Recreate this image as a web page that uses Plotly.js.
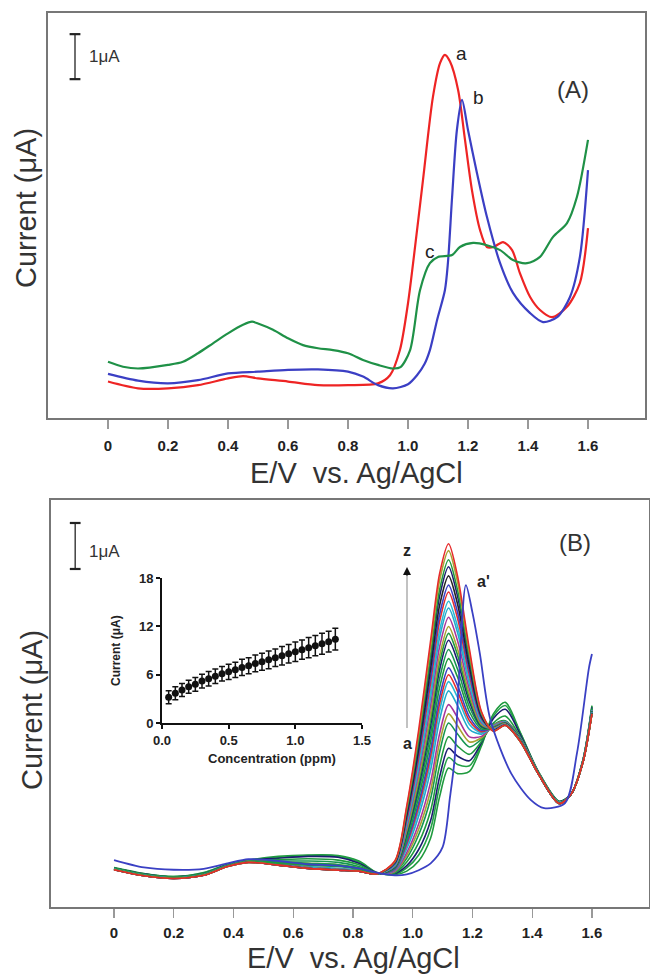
<!DOCTYPE html>
<html><head><meta charset="utf-8">
<script src="https://cdn.plot.ly/plotly-3.0.1.min.js"></script>
<style>html,body{margin:0;padding:0;background:#fff;} #chart{width:650px;height:974px;}</style>
</head><body><div id="chart"></div>
<script>
// ---------- Panel A data (E in V, current in µA, arbitrary offset) ----------
const xA_a = [0, 0.1, 0.2, 0.3, 0.4, 0.45, 0.5, 0.6, 0.7, 0.8, 0.9, 0.94, 0.973, 1.0, 1.017, 1.05, 1.083, 1.107, 1.123, 1.14, 1.167, 1.19, 1.213, 1.24, 1.263, 1.285, 1.317, 1.347, 1.373, 1.407, 1.44, 1.48, 1.53, 1.573, 1.6];
const yA_a = [0.81, 0.66, 0.66, 0.73, 0.88, 0.93, 0.88, 0.81, 0.73, 0.73, 0.77, 0.95, 1.51, 2.55, 3.44, 5.29, 7.13, 7.89, 8.07, 7.92, 7.29, 6.18, 5.07, 4.18, 3.8, 3.8, 3.91, 3.73, 3.22, 2.69, 2.4, 2.24, 2.47, 3.0, 4.22];
const xA_b = [0, 0.1, 0.2, 0.3, 0.4, 0.5, 0.6, 0.7, 0.8, 0.85, 0.9, 0.95, 1.0, 1.03, 1.055, 1.073, 1.097, 1.123, 1.133, 1.147, 1.163, 1.18, 1.2, 1.23, 1.263, 1.307, 1.35, 1.407, 1.45, 1.497, 1.54, 1.573, 1.6];
const yA_b = [0.98, 0.83, 0.77, 0.84, 0.99, 1.03, 1.07, 1.08, 1.03, 0.92, 0.73, 0.66, 0.75, 0.95, 1.2, 1.51, 2.18, 2.84, 3.44, 4.91, 6.4, 7.07, 6.4, 5.44, 4.47, 3.44, 2.78, 2.33, 2.13, 2.24, 2.69, 3.58, 5.51];
const xA_c = [0, 0.05, 0.1, 0.2, 0.25, 0.3, 0.35, 0.4, 0.45, 0.48, 0.5, 0.55, 0.6, 0.65, 0.7, 0.75, 0.8, 0.85, 0.9, 0.95, 0.975, 1.007, 1.04, 1.073, 1.1, 1.147, 1.173, 1.217, 1.263, 1.307, 1.35, 1.397, 1.44, 1.483, 1.53, 1.563, 1.6];
const yA_c = [1.25, 1.14, 1.1, 1.18, 1.25, 1.44, 1.66, 1.88, 2.07, 2.14, 2.1, 1.96, 1.77, 1.62, 1.55, 1.51, 1.44, 1.29, 1.18, 1.1, 1.13, 1.51, 2.84, 3.44, 3.58, 3.62, 3.8, 3.89, 3.84, 3.73, 3.51, 3.44, 3.58, 4.02, 4.33, 4.91, 6.18];

// ---------- Panel B data: 26 successive additions a..z plus a' ----------
const xB = [0, 0.1, 0.2, 0.3, 0.38, 0.45, 0.55, 0.65, 0.75, 0.82, 0.88, 0.94, 0.98, 1.02, 1.06, 1.09, 1.12, 1.15, 1.19, 1.23, 1.27, 1.31, 1.36, 1.42, 1.49, 1.53, 1.57, 1.6];
const yB_a = [0.86,0.73,0.66,0.75,0.93,1.02,1.10,1.13,1.12,1.00,0.75, 0.70,0.78,1.00,1.50,2.40,3.02,2.90,2.95,3.50, 4.20,4.45,3.80,2.95,2.30,2.45,3.20,4.38];
const yB_b = [0.85,0.72,0.66,0.74,0.92,1.02,1.08,1.12,1.10,0.98,0.74, 0.71,0.85,1.13,1.70,2.63,3.25,3.10,3.07,3.54, 4.15,4.38,3.78,2.95,2.30,2.45,3.20,4.36];
const yB_c = [0.85,0.72,0.65,0.73,0.92,1.01,1.06,1.10,1.08,0.95,0.74, 0.73,0.90,1.25,1.88,2.83,3.45,3.28,3.18,3.57, 4.10,4.30,3.75,2.94,2.29,2.45,3.20,4.34];
const yB_d = [0.84,0.71,0.65,0.72,0.91,1.00,1.03,1.05,1.02,0.92,0.73, 0.74,0.98,1.40,2.10,3.07,3.70,3.50,3.32,3.60, 4.00,4.15,3.70,2.93,2.28,2.45,3.19,4.32];
const yB_e = [0.84,0.71,0.65,0.72,0.91,1.00,1.00,1.00,0.97,0.88,0.73, 0.76,1.06,1.57,2.36,3.37,4.00,3.76,3.48,3.65, 3.96,4.05,3.68,2.93,2.28,2.45,3.19,4.30];
const yB_f = [0.83,0.70,0.64,0.71,0.90,1.00,0.98,0.95,0.92,0.85,0.72, 0.77,1.12,1.69,2.54,3.57,4.20,3.94,3.59,3.68, 3.95,4.03,3.67,2.92,2.27,2.45,3.18,4.28];
const yB_g = [0.83,0.70,0.64,0.71,0.90,0.99,0.96,0.92,0.89,0.83,0.72, 0.78,1.18,1.81,2.72,3.77,4.40,4.12,3.70,3.71, 3.94,4.03,3.67,2.92,2.27,2.45,3.18,4.28];
const yB_h = [0.82,0.69,0.63,0.70,0.90,0.99,0.94,0.88,0.84,0.80,0.72, 0.80,1.27,1.98,2.98,4.07,4.70,4.38,3.86,3.76, 3.93,4.02,3.66,2.92,2.27,2.45,3.18,4.27];
const yB_i = [0.82,0.69,0.63,0.70,0.90,0.99,0.93,0.86,0.82,0.79,0.72, 0.82,1.33,2.10,3.16,4.27,4.90,4.56,3.97,3.79, 3.92,4.02,3.66,2.92,2.27,2.45,3.18,4.27];
const yB_j = [0.83,0.69,0.63,0.70,0.89,0.98,0.93,0.86,0.82,0.79,0.72, 0.82,1.37,2.19,3.29,4.42,5.05,4.69,4.05,3.81, 3.91,4.01,3.65,2.92,2.26,2.45,3.17,4.26];
const yB_k = [0.82,0.69,0.63,0.70,0.89,0.98,0.92,0.85,0.81,0.78,0.72, 0.83,1.41,2.27,3.42,4.57,5.20,4.82,4.13,3.84, 3.90,4.00,3.65,2.91,2.26,2.45,3.17,4.26];
const yB_l = [0.84,0.70,0.64,0.71,0.90,0.99,0.97,0.93,0.90,0.84,0.72, 0.85,1.47,2.39,3.60,4.77,5.40,5.00,4.24,3.87, 3.90,4.00,3.65,2.91,2.26,2.45,3.17,4.26];
const yB_m = [0.84,0.70,0.64,0.71,0.90,0.99,0.98,0.95,0.92,0.85,0.72, 0.86,1.53,2.51,3.77,4.97,5.60,5.17,4.35,3.90, 3.89,3.99,3.64,2.91,2.26,2.45,3.17,4.25];
const yB_n = [0.82,0.69,0.63,0.70,0.89,0.98,0.92,0.85,0.81,0.78,0.72, 0.87,1.59,2.62,3.95,5.16,5.80,5.35,4.46,3.93, 3.89,3.99,3.64,2.91,2.26,2.45,3.17,4.25];
const yB_o = [0.83,0.70,0.64,0.71,0.90,0.99,0.96,0.93,0.90,0.83,0.72, 0.88,1.63,2.71,4.08,5.31,5.95,5.48,4.54,3.95, 3.88,3.98,3.63,2.91,2.26,2.45,3.16,4.25];
const yB_p = [0.82,0.69,0.63,0.70,0.89,0.98,0.92,0.85,0.81,0.78,0.72, 0.89,1.68,2.80,4.21,5.46,6.10,5.61,4.62,3.97, 3.88,3.98,3.63,2.90,2.25,2.45,3.16,4.24];
const yB_q = [0.82,0.69,0.63,0.70,0.89,0.98,0.92,0.85,0.81,0.78,0.72, 0.90,1.73,2.92,4.39,5.66,6.30,5.79,4.73,4.00, 3.87,3.97,3.62,2.90,2.25,2.45,3.16,4.24];
const yB_r = [0.82,0.69,0.63,0.70,0.89,0.98,0.92,0.85,0.81,0.78,0.72, 0.91,1.79,3.03,4.57,5.86,6.50,5.97,4.84,4.03, 3.86,3.97,3.62,2.90,2.25,2.45,3.16,4.23];
const yB_s = [0.82,0.69,0.63,0.70,0.89,0.98,0.92,0.85,0.81,0.78,0.72, 0.92,1.84,3.12,4.70,6.01,6.65,6.10,4.92,4.06, 3.86,3.96,3.62,2.90,2.25,2.45,3.16,4.23];
const yB_t = [0.81,0.68,0.62,0.69,0.89,0.98,0.91,0.84,0.80,0.78,0.72, 0.94,1.89,3.24,4.88,6.21,6.85,6.28,5.03,4.09, 3.85,3.96,3.61,2.90,2.25,2.45,3.15,4.22];
const yB_u = [0.81,0.68,0.62,0.69,0.89,0.98,0.91,0.84,0.80,0.78,0.72, 0.94,1.94,3.33,5.01,6.36,7.00,6.41,5.11,4.11, 3.85,3.96,3.61,2.90,2.25,2.45,3.15,4.22];
const yB_v = [0.81,0.68,0.62,0.69,0.88,0.97,0.91,0.84,0.80,0.78,0.72, 0.96,2.00,3.44,5.19,6.56,7.20,6.59,5.22,4.14, 3.84,3.95,3.61,2.90,2.25,2.45,3.15,4.21];
const yB_w = [0.81,0.68,0.62,0.69,0.88,0.97,0.91,0.84,0.80,0.78,0.72, 0.97,2.06,3.56,5.36,6.76,7.40,6.76,5.33,4.17, 3.84,3.95,3.60,2.90,2.25,2.45,3.15,4.21];
const yB_x = [0.82,0.69,0.63,0.70,0.89,0.98,0.95,0.91,0.88,0.82,0.72, 0.98,2.10,3.64,5.49,6.90,7.55,6.89,5.41,4.20, 3.83,3.95,3.60,2.90,2.25,2.45,3.15,4.21];
const yB_y = [0.81,0.68,0.62,0.69,0.88,0.97,0.91,0.84,0.80,0.78,0.72, 0.99,2.16,3.76,5.67,7.10,7.75,7.07,5.52,4.23, 3.83,3.95,3.60,2.90,2.25,2.45,3.15,4.20];
const yB_z = [0.81,0.68,0.62,0.69,0.88,0.97,0.91,0.84,0.80,0.78,0.72, 1.00,2.20,3.85,5.80,7.25,7.90,7.20,5.60,4.25, 3.82,3.95,3.60,2.90,2.25,2.45,3.15,4.20];
const xB_ap = [0, 0.1, 0.2, 0.3, 0.38, 0.45, 0.55, 0.65, 0.75, 0.82, 0.88, 0.94, 0.98, 1.02, 1.06, 1.1, 1.125, 1.14, 1.155, 1.178, 1.2, 1.225, 1.26, 1.33, 1.395, 1.44, 1.51, 1.55, 1.59, 1.6];
const yB_ap = [1.02, 0.86, 0.81, 0.83, 0.95, 1.04, 1.0, 0.93, 0.9, 0.84, 0.75, 0.69, 0.71, 0.8, 0.95, 1.3, 2.4, 3.2, 5.0, 7.0, 6.4, 5.5, 4.07, 2.9, 2.33, 2.15, 2.26, 3.35, 5.2, 5.5];
const curveNames = ['a','b','c','d','e','f','g','h','i','j','k','l','m','n','o','p','q','r','s','t','u','v','w','x','y','z'];
const curveColors = ['#1f9a3e','#23a046','#1c1c70','#1f9a3e','#169650','#a9a232','#a8359c','#22a9cc','#2bb7d4','#e62a2a','#3a40c4','#1f9a3e','#169650','#1c1c70','#1f9a3e','#a9a232','#a8359c','#22a9cc','#2bb7d4','#e62a2a','#3a40c4','#222222','#1c1c70','#1f9a3e','#a9a232','#e62a2a'];
const yBcurves = [yB_a,yB_b,yB_c,yB_d,yB_e,yB_f,yB_g,yB_h,yB_i,yB_j,yB_k,yB_l,yB_m,yB_n,yB_o,yB_p,yB_q,yB_r,yB_s,yB_t,yB_u,yB_v,yB_w,yB_x,yB_y,yB_z];

// ---------- Inset calibration data ----------
const conc = [0.05,0.1,0.15,0.2,0.25,0.3,0.35,0.4,0.45,0.5,0.55,0.6,0.65,0.7,0.75,0.8,0.85,0.9,0.95,1.0,1.05,1.1,1.15,1.2,1.25,1.3];
const peakCurrent = [3.2,3.7,4.1,4.5,4.8,5.2,5.5,5.8,6.1,6.35,6.6,6.9,7.1,7.4,7.6,7.85,8.1,8.35,8.6,8.85,9.1,9.35,9.6,9.85,10.1,10.4];
const peakErr = [0.8,0.8,0.8,0.8,0.85,0.85,0.9,0.9,0.9,0.95,0.95,1.0,1.0,1.05,1.05,1.1,1.1,1.15,1.15,1.2,1.2,1.25,1.25,1.3,1.3,1.35];

const xTickVals = [0,0.2,0.4,0.6,0.8,1.0,1.2,1.4,1.6];
const xTickText = ['0','0.2','0.4','0.6','0.8','1.0','1.2','1.4','1.6'];
const insetXTicks = [0,0.5,1.0,1.5];
const insetXText = ['0.0','0.5','1.0','1.5'];
const insetYTicks = [0,6,12,18];

const FONT = 'Arial, "Liberation Sans", Helvetica, sans-serif';
function px(x){return x/650;}
function py(y){return 1-y/974;}

const traces = [];
traces.push({x:xA_a,y:yA_a,xaxis:'x',yaxis:'y',mode:'lines',line:{color:'#ee2424',width:2.2,shape:'spline',smoothing:0.8},hoverinfo:'skip'});
traces.push({x:xA_b,y:yA_b,xaxis:'x',yaxis:'y',mode:'lines',line:{color:'#3b3fc4',width:2.2,shape:'spline',smoothing:0.8},hoverinfo:'skip'});
traces.push({x:xA_c,y:yA_c,xaxis:'x',yaxis:'y',mode:'lines',line:{color:'#1f9147',width:2.2,shape:'spline',smoothing:0.8},hoverinfo:'skip'});
yBcurves.forEach((yy,i)=>{
  traces.push({x:xB,y:yy,name:curveNames[i],xaxis:'x2',yaxis:'y2',mode:'lines',line:{color:curveColors[i],width:1.6,shape:'spline',smoothing:0.8},hoverinfo:'skip'});
});
traces.push({x:xB_ap,y:yB_ap,name:"a'",xaxis:'x2',yaxis:'y2',mode:'lines',line:{color:'#3a40c4',width:1.8,shape:'spline',smoothing:0.8},hoverinfo:'skip'});
traces.push({x:conc,y:peakCurrent,xaxis:'x3',yaxis:'y3',mode:'markers',marker:{color:'#111',size:7,symbol:'circle'},
  error_y:{type:'data',array:peakErr,visible:true,color:'#111',thickness:1.5,width:3},hoverinfo:'skip'});

const tickFont = {family:FONT,size:15,color:'#222',weight:'bold'};
const frameAxis = {showline:true,mirror:true,linecolor:'#777',linewidth:1.6,showgrid:false,zeroline:false};

function note(x,y,text,font,extra){
  return Object.assign({xref:'paper',yref:'paper',x:px(x),y:py(y),xanchor:'center',yanchor:'middle',text:text,showarrow:false,font:font},extra||{});
}
const titleFont = {family:FONT,size:29,color:'#333'};

const layout = {
  width:650,height:974,margin:{l:0,r:0,t:0,b:0},
  paper_bgcolor:'#fff',plot_bgcolor:'rgba(0,0,0,0)',showlegend:false,
  font:{family:FONT,color:'#333'},
  xaxis:Object.assign({},frameAxis,{domain:[px(48),px(645)],range:[-0.2,1.79],anchor:'y',
    tickmode:'array',tickvals:xTickVals,ticktext:xTickText,ticks:'outside',ticklen:9,tickwidth:1.2,tickcolor:'#999',
    tickfont:tickFont,ticklabelstandoff:4}),
  yaxis:Object.assign({},frameAxis,{domain:[py(418),py(13)],range:[0,9.0],anchor:'x',showticklabels:false,ticks:''}),
  xaxis2:Object.assign({},frameAxis,{domain:[px(51),px(649)],range:[-0.211,1.791],anchor:'y2',
    tickmode:'array',tickvals:xTickVals,ticktext:xTickText,ticks:'outside',ticklen:9,tickwidth:1.2,tickcolor:'#999',
    tickfont:tickFont,ticklabelstandoff:2}),
  yaxis2:Object.assign({},frameAxis,{domain:[py(907),py(500)],range:[0,8.85],anchor:'x2',showticklabels:false,ticks:''}),
  xaxis3:{domain:[px(162),px(362)],range:[0,1.5],anchor:'y3',showline:true,linecolor:'#111',linewidth:2,showgrid:false,zeroline:false,
    tickmode:'array',tickvals:insetXTicks,ticktext:insetXText,ticks:'outside',ticklen:4,tickwidth:2,tickcolor:'#111',
    tickfont:{family:FONT,size:13,color:'#222',weight:'bold'}},
  yaxis3:{domain:[py(723),py(578)],range:[0,18],anchor:'x3',showline:true,linecolor:'#111',linewidth:2,showgrid:false,zeroline:false,
    tickmode:'array',tickvals:insetYTicks,ticks:'outside',ticklen:4,tickwidth:2,tickcolor:'#111',
    tickfont:{family:FONT,size:13,color:'#222',weight:'bold'}},
  shapes:[
    {type:'line',xref:'x',yref:'y',x0:-0.11,x1:-0.11,y0:7.53,y1:8.53,line:{color:'#333',width:1.4}},
    {type:'line',xref:'x',yref:'y',x0:-0.128,x1:-0.092,y0:7.53,y1:7.53,line:{color:'#222',width:2.2}},
    {type:'line',xref:'x',yref:'y',x0:-0.128,x1:-0.092,y0:8.53,y1:8.53,line:{color:'#222',width:2.2}},
    {type:'line',xref:'x2',yref:'y2',x0:-0.13,x1:-0.13,y0:7.35,y1:8.35,line:{color:'#333',width:1.4}},
    {type:'line',xref:'x2',yref:'y2',x0:-0.148,x1:-0.112,y0:7.35,y1:7.35,line:{color:'#222',width:2.2}},
    {type:'line',xref:'x2',yref:'y2',x0:-0.148,x1:-0.112,y0:8.35,y1:8.35,line:{color:'#222',width:2.2}},
    {type:'line',xref:'paper',yref:'paper',x0:px(407),x1:px(407),y0:py(728),y1:py(574),line:{color:'#999',width:1.2}}
  ],
  annotations:[
    note(26,208,'Current (μA)',titleFont,{textangle:-90}),
    note(356,473,'E/V  vs. Ag/AgCl',titleFont),
    note(32,710,'Current (μA)',titleFont,{textangle:-90}),
    note(353,958,'E/V  vs. Ag/AgCl',titleFont),
    note(87,57,'1μA',{family:FONT,size:17,color:'#333'},{xanchor:'left'}),
    note(87,551,'1μA',{family:FONT,size:17,color:'#333'},{xanchor:'left'}),
    note(573,89,'(A)',{family:FONT,size:24,color:'#333'}),
    note(575,542,'(B)',{family:FONT,size:24,color:'#333'}),
    note(461,53,'a',{family:FONT,size:19,color:'#222'}),
    note(478,97,'b',{family:FONT,size:19,color:'#222'}),
    note(430,252,'c',{family:FONT,size:19,color:'#222'}),
    note(407,550,'z',{family:FONT,size:16,color:'#222',weight:'bold'}),
    note(407,743,'a',{family:FONT,size:16,color:'#222',weight:'bold'}),
    note(484,581,"a'",{family:FONT,size:16,color:'#222',weight:'bold'}),
    {xref:'paper',yref:'paper',x:px(407),y:py(567),ax:0,ay:10,text:'',showarrow:true,arrowhead:2,arrowsize:1,arrowwidth:1.6,arrowcolor:'#111'},
    note(116,650,'Current (μA)',{family:FONT,size:12,color:'#222',weight:'bold'},{textangle:-90}),
    note(272,758,'Concentration (ppm)',{family:FONT,size:13,color:'#222',weight:'bold'})
  ]
};
Plotly.newPlot('chart',traces,layout,{staticPlot:true,displayModeBar:false});
</script></body></html>
